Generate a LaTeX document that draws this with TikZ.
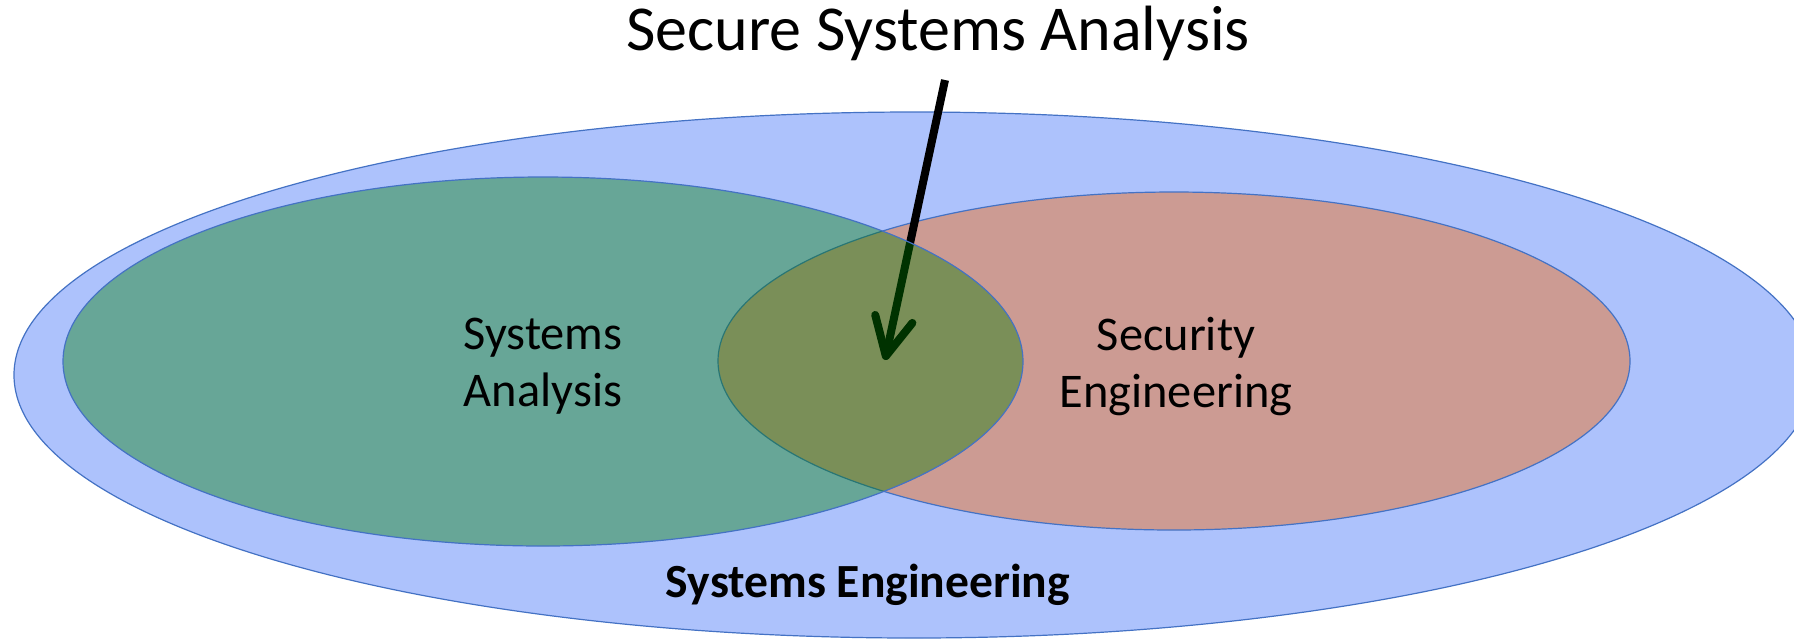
\documentclass[tikz,border=0pt]{standalone}
\usepackage{fontspec}
\setmainfont{Carlito}
\usetikzlibrary{shapes.geometric,arrows.meta}
\definecolor{outerblue}{RGB}{173,194,252}
\definecolor{edgeblue}{RGB}{68,114,196}
\definecolor{secred}{RGB}{204,155,147}
\definecolor{anagreen}{RGB}{0,125,0}

\begin{document}
\begin{tikzpicture}[x=0.5pt,y=-0.5pt]
\tikzstyle{every node}+=[inner sep=0pt]
\tikzstyle{setshape}=[ellipse, draw=edgeblue, line width=0.6pt, align=center, font=\fontsize{24.2}{28.5}\selectfont]
\path [use as bounding box, clip] (0,0) rectangle (1794,639);
\node [setshape, fill=outerblue, minimum width=900pt, minimum height=263pt] (syseng) at (914,375) {};
\node [setshape, fill=secred, minimum width=456pt, minimum height=169pt] (seceng) at (1174,361) {};
\node [setshape, draw=none, fill=none] (seclabel) at (1176,366) {Security\\Engineering};
\coordinate (tail) at (945,80);
\coordinate (tip) at (885,360);
\draw [line width=4pt, -{Straight Barb[length=19pt,width=19pt,round]}] (tail) -- (tip);
\node [setshape, fill=anagreen, fill opacity=0.4, minimum width=480pt, minimum height=184.5pt] (sysana) at (543,361.5) {};
\node [setshape, draw=none, fill=none] (analabel) at (543,366) {Systems\\Analysis};
\node [font=\fontsize{32}{38}\selectfont, anchor=base] (title) at (938,50) {Secure Systems Analysis};
\node [font=\bfseries\fontsize{23.8}{28}\selectfont, anchor=base] (englabel) at (868,597) {Systems Engineering};
\end{tikzpicture}
\end{document}
